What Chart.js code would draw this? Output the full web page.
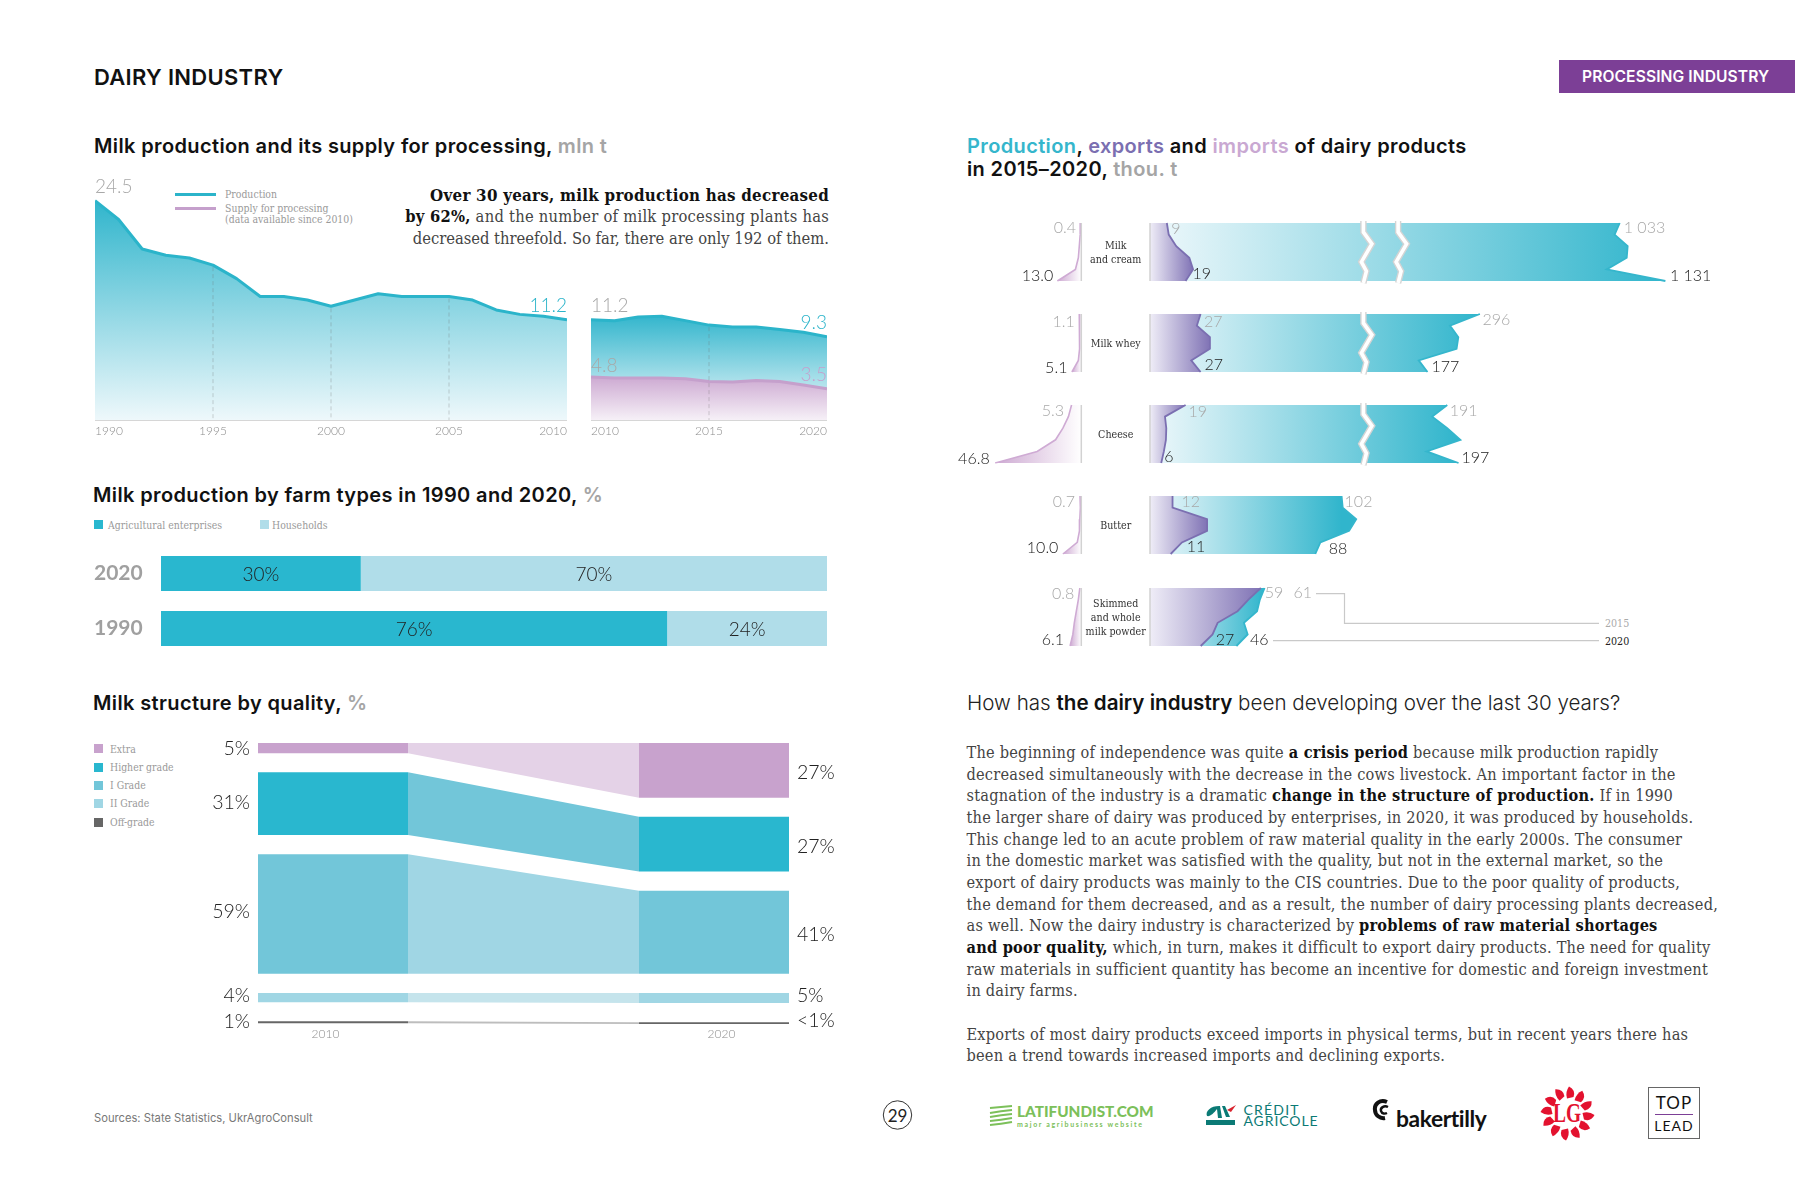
<!DOCTYPE html>
<html>
<head>
<meta charset="utf-8">
<title>Dairy industry</title>
<script src="https://cdn.jsdelivr.net/npm/chart.js@4/dist/chart.umd.js"></script>
<style>
  html, body { margin: 0; padding: 0; background: #fff; }
  #page { position: relative; width: 1795px; height: 1180px; overflow: hidden; font-family: Lato, sans-serif; color: #111; }
  #page canvas { position: absolute; }
  .t { position: absolute; white-space: nowrap; line-height: 1; transform: translateY(-50%); }
  .h { font-family: Inter, sans-serif; font-weight: 600; font-size: 20px; letter-spacing: .37px; color: #111; }
  .grey { color: #a5a5a5; }
  .lg { font-family: "DejaVu Serif Condensed", serif; font-size: 10.4px; color: #9a9a9a; }
  .sw { position: absolute; width: 9px; height: 9px; }
  .slab { font-family: "DejaVu Serif Condensed", serif; }
  #body { position: absolute; left: 966.5px; top: 742px; font-family: "DejaVu Serif Condensed", serif; font-size: 16.2px; letter-spacing: .22px; line-height: 21.66px; color: #444; white-space: nowrap; }
  #body b { color: #111; }
</style>
</head>
<body>
<div id="page">
  <!-- header -->
  <div class="t" style="left:94px;top:77px;font-family:Inter,sans-serif;font-size:22px;letter-spacing:.3px;font-weight:600">DAIRY INDUSTRY</div>
  <div style="position:absolute;left:1559px;top:59.5px;width:236px;height:33px;background:#7c3f96"></div>
  <div class="t" style="left:1582px;top:76.5px;font-family:Inter,sans-serif;font-size:15.6px;letter-spacing:.1px;font-weight:600;color:#fff">PROCESSING INDUSTRY</div>

  <!-- left column headings -->
  <div class="t h" style="left:94px;top:146px">Milk production and its supply for processing, <span class="grey">mln t</span></div>
  <div class="t h" style="left:93px;top:494.5px">Milk production by farm types in 1990 and 2020, <span class="grey">%</span></div>
  <div class="t h" style="left:93px;top:702.5px">Milk structure by quality, <span class="grey">%</span></div>

  <!-- production legend -->
  <div style="position:absolute;left:175px;top:193px;width:41px;height:3px;background:#2bb4ca"></div>
  <div style="position:absolute;left:175px;top:207px;width:41px;height:3px;background:#c5a0cc"></div>
  <div class="t lg" style="left:225px;top:194px">Production</div>
  <div class="t lg" style="left:225px;top:208px">Supply for processing</div>
  <div class="t lg" style="left:225px;top:219px">(data available since 2010)</div>

  <!-- callout -->
  <div class="t slab" style="right:966px;top:195px;font-size:16.8px;letter-spacing:.26px;font-weight:700;color:#111">Over 30 years, milk production has decreased</div>
  <div class="t slab" style="right:966px;top:217.3px;font-size:16.4px;letter-spacing:.25px;color:#444"><b style="color:#111">by 62%,</b> and the number of milk processing plants has</div>
  <div class="t slab" style="right:966px;top:239.3px;font-size:16.4px;color:#444">decreased threefold. So far, there are only 192 of them.</div>

  <!-- milk can -->
  <svg style="position:absolute;left:136px;top:317px" width="36" height="73" viewBox="0 0 36 73" fill="none" stroke="#2bb4ca" stroke-width="2.6" stroke-linejoin="round">
    <path d="M2 30V11Q2 8 7 7V4Q7 2 10 2H26Q29 2 29 4V7Q34 8 34 11V30"/>
    <ellipse cx="18" cy="20" rx="12" ry="3.4"/>
    <path d="M6 20V29L2.5 34V67Q2.5 71 7 71H29Q33.5 71 33.5 67V34L30 29V20"/>
  </svg>

  <!-- farm legend -->
  <div class="sw" style="left:94px;top:520px;background:#29b7cf"></div>
  <div class="t lg" style="left:108px;top:525px">Agricultural enterprises</div>
  <div class="sw" style="left:260px;top:520px;background:#b0dde9"></div>
  <div class="t lg" style="left:272px;top:525px">Households</div>

  <!-- quality legend -->
  <div class="sw" style="left:94px;top:744px;background:#c8a2cd"></div>
  <div class="t lg" style="left:110px;top:748.5px">Extra</div>
  <div class="sw" style="left:94px;top:762.5px;background:#29b7cf"></div>
  <div class="t lg" style="left:110px;top:767px">Higher grade</div>
  <div class="sw" style="left:94px;top:780.5px;background:#72c6d9"></div>
  <div class="t lg" style="left:110px;top:785px">I Grade</div>
  <div class="sw" style="left:94px;top:799px;background:#a0d6e4"></div>
  <div class="t lg" style="left:110px;top:803.3px">II Grade</div>
  <div class="sw" style="left:94px;top:817.5px;background:#666"></div>
  <div class="t lg" style="left:110px;top:822.2px">Off-grade</div>

  <div class="t" style="left:94px;top:1118.5px;font-family:Inter,sans-serif;font-size:11.2px;color:#777">Sources: State Statistics, UkrAgroConsult</div>

  <!-- right column heading -->
  <div class="t h" style="left:967px;top:146px"><span style="color:#35b6cc">Production</span>, <span style="color:#7b6fb1">exports</span> and <span style="color:#c9a8d2">imports</span> of dairy products</div>
  <div class="t h" style="left:967px;top:169.3px">in 2015–2020, <span class="grey">thou. t</span></div>

  <!-- year leader lines -->
  <svg style="position:absolute;left:0;top:0" width="1795" height="1180" fill="none" stroke="#c9c9c9" stroke-width="1.2">
    <path d="M1316 593.7H1344.5V623.3H1599"/>
    <path d="M1273 640.7H1599"/>
    <circle cx="897.5" cy="1115" r="14.2" stroke="#333" stroke-width="1"/>
  </svg>
  <div class="t lg" style="left:1605px;top:623.3px;font-size:10.6px;color:#aaa">2015</div>
  <div class="t lg" style="left:1605px;top:640.7px;font-size:10.6px;color:#222">2020</div>

  <!-- article -->
  <div class="t" style="left:967px;top:703px;font-family:Inter,sans-serif;font-size:20.6px;font-weight:300;color:#222">How has <b style="font-weight:600;color:#111">the dairy industry</b> been developing over the last 30 years?</div>
  <div id="body">
The beginning of independence was quite <b>a crisis period</b> because milk production rapidly<br>
decreased simultaneously with the decrease in the cows livestock. An important factor in the<br>
stagnation of the industry is a dramatic <b>change in the structure of production.</b> If in 1990<br>
the larger share of dairy was produced by enterprises, in 2020, it was produced by households.<br>
This change led to an acute problem of raw material quality in the early 2000s. The consumer<br>
in the domestic market was satisfied with the quality, but not in the external market, so the<br>
export of dairy products was mainly to the CIS countries. Due to the poor quality of products,<br>
the demand for them decreased, and as a result, the number of dairy processing plants decreased,<br>
as well. Now the dairy industry is characterized by <b>problems of raw material shortages</b><br>
<b>and poor quality,</b> which, in turn, makes it difficult to export dairy products. The need for quality<br>
raw materials in sufficient quantity has become an incentive for domestic and foreign investment<br>
in dairy farms.<br>
<br>
Exports of most dairy products exceed imports in physical terms, but in recent years there has<br>
been a trend towards increased imports and declining exports.
  </div>

  <!-- footer -->
  <div class="t" style="left:897.5px;top:1115px;transform:translate(-50%,-50%);font-size:17px;color:#222">29</div>

  <svg style="position:absolute;left:989px;top:1105px" width="25" height="21" fill="none" stroke="#7cc05a" stroke-width="2">
    <path d="M1 3L23 1M1 8Q12 6 23 5M1 12Q12 10 23 9M1 16Q12 15 23 13M1 20Q12 19 23 17"/>
  </svg>
  <div class="t" style="left:1017px;top:1111.5px;font-size:15.3px;font-weight:900;color:#7cc05a">LATIFUNDIST.COM</div>
  <div class="t" style="left:1017px;top:1123.5px;font-size:7px;letter-spacing:1.65px;font-weight:700;color:#7cc05a">major agribusiness website</div>

  <svg style="position:absolute;left:1205px;top:1104px" width="32" height="22">
    <path d="M14 2C6 2 0 7 2 12C5 13 9 9 12 5L13 14H17L15 2ZM17 2H20L25 13H21Z" fill="#0b7a75"/>
    <path d="M22 6L31 1L26 8Z" fill="#d9232e"/>
    <rect x="1" y="16" width="29" height="5" fill="#0b7a75"/>
  </svg>
  <div class="t" style="left:1243.5px;top:1110px;font-size:14px;letter-spacing:1.2px;color:#0b7a75">CRÉDIT</div>
  <div class="t" style="left:1243.5px;top:1121px;font-size:14px;letter-spacing:.9px;color:#0b7a75">AGRICOLE</div>

  <svg style="position:absolute;left:1372px;top:1099px" width="22" height="22" fill="none" stroke="#111">
    <path d="M15 3C8 0 2 5 3 11C3 16 8 20 13 19" stroke-width="4"/>
    <path d="M16 8C12 6 8 9 9 12C10 15 13 15 15 14" stroke-width="2.4"/>
  </svg>
  <div class="t" style="left:1396px;top:1118px;font-size:22.8px;font-weight:700;color:#111;letter-spacing:-.4px">bakertilly</div>

  <svg style="position:absolute;left:1540px;top:1086px" width="55" height="55">
    <g id="lg-spokes" fill="#e3122f"></g>
  </svg>
  <div class="t" style="left:1567.4px;top:1113px;transform:translate(-50%,-50%) scaleX(.72);font-size:27px;font-weight:700;color:#e3122f;font-family:'Liberation Serif',serif">LG</div>

  <div style="position:absolute;left:1648px;top:1087px;width:52px;height:52px;border:1.5px solid #666;box-sizing:border-box"></div>
  <div class="t" style="left:1674px;top:1102px;transform:translate(-50%,-50%);font-size:17px;letter-spacing:1px;color:#111">TOP</div>
  <div style="position:absolute;left:1655px;top:1114px;width:38px;height:1px;background:#7c3f96"></div>
  <div class="t" style="left:1674px;top:1126px;transform:translate(-50%,-50%);font-size:14px;letter-spacing:1px;color:#111">LEAD</div>
</div>

<script>
// --- data ---------------------------------------------------------------
const productionYears = ['1990','1991','1992','1993','1994','1995','1996','1997','1998','1999','2000','2001','2002','2003','2004','2005','2006','2007','2008','2009','2010'];
const productionValues = [24.5,22.4,19.1,18.4,18.1,17.3,15.8,13.8,13.8,13.4,12.7,13.4,14.1,13.8,13.8,13.8,13.4,12.3,11.8,11.6,11.2];
const recentYears = ['2010','2011','2012','2013','2014','2015','2016','2017','2018','2019','2020'];
const recentProduction = [11.2,11.1,11.5,11.6,11.1,10.6,10.4,10.4,10.1,9.8,9.3];
const recentSupply = [4.8,4.7,4.7,4.7,4.6,4.3,4.25,4.4,4.3,3.9,3.5];

const farmYears = ['2020','1990'];
const farmEnterprises = [30,76];
const farmHouseholds = [70,24];

const qualityGrades = ['Extra','Higher grade','I Grade','II Grade','Off-grade'];
const quality2010 = [5,31,59,4.6,1];
const quality2020 = [27,27,41,5,0.9];
const quality2010Labels = ['5%','31%','59%','4%','1%'];
const quality2020Labels = ['27%','27%','41%','5%','<1%'];

const tradeYears = ['2015','2016','2017','2018','2019','2020'];
const milkImports = [0.4,0.6,1.1,1.6,3.2,13.0];
const milkExports = [9,10,14,21,23,19];
const milkProduction = [1033,1022,1050,1048,1005,1131];
const wheyImports = [1.1,0.9,0.8,1.1,1.6,5.1];
const wheyExports = [27,25,32,32,22,27];
const wheyProduction = [296,228,247,243,157,177];
const cheeseImports = [5.3,7,10,14,24,46.8];
const cheeseExports = [19,8,8.7,8.5,7.4,6];
const cheeseProduction = [191,183,191,198,180,197];
const butterImports = [0.7,0.5,0.8,1.0,2.2,10.0];
const butterExports = [12,12,30.4,30.4,17,11];
const butterProduction = [102,102.6,109.8,106,90.7,88];
const powderImports = [0.8,1.6,2.7,3.8,4.6,6.1];
const powderExports = [59,52.4,46.6,36,33.3,27];
const powderProduction = [61,58.5,57,50,52,46];

// --- helpers ------------------------------------------------------------
const TEAL = '#2bb4ca', LILAC = '#c5a0cc', GREY = '#a8a8a8', DARK = '#222';
const numFont = '300 16px Lato';

Chart.defaults.font.family = 'Lato';
Chart.defaults.animation = false;
Chart.defaults.events = [];
Chart.defaults.responsive = false;
Chart.defaults.plugins.legend.display = false;
Chart.defaults.plugins.tooltip.enabled = false;

function makeChart(left, top, width, height, cfg) {
    const canvas = document.createElement('canvas');
    canvas.width = width;
    canvas.height = height;
    canvas.style.left = left + 'px';
    canvas.style.top = top + 'px';
    document.getElementById('page').appendChild(canvas);
    return new Chart(canvas, cfg);
}

// text tied to a chart element, or to a pair of scale values through `at`
function labelPlugin(items) {
    return {
        id: 'labels',
        afterDatasetsDraw(chart) {
            const ctx = chart.ctx;
            items.forEach(it => {
                let x, y;
                if (it.at) {
                    x = chart.scales.x.getPixelForValue(it.at[0]);
                    y = chart.scales.y.getPixelForValue(it.at[1]);
                } else {
                    const p = chart.getDatasetMeta(it.ds).data[it.i].getCenterPoint();
                    x = p.x; y = p.y;
                }
                ctx.save();
                ctx.font = it.font || numFont;
                ctx.fillStyle = it.color || DARK;
                ctx.textAlign = it.align || 'left';
                ctx.textBaseline = 'middle';
                ctx.fillText(it.text, x + (it.dx || 0), y + (it.dy || 0));
                ctx.restore();
            });
        }
    };
}

// dashed drop from the line to the axis at some categories
function dropPlugin(dsIndex, years) {
    return {
        id: 'drops',
        afterDatasetsDraw(chart) {
            const ctx = chart.ctx, bottom = chart.chartArea.bottom;
            const labels = chart.data.labels;
            ctx.save();
            ctx.strokeStyle = 'rgba(110,110,110,.3)';
            ctx.setLineDash([4, 3]);
            years.forEach(yr => {
                const p = chart.getDatasetMeta(dsIndex).data[labels.indexOf(yr)];
                ctx.beginPath();
                ctx.moveTo(p.x, p.y + 2);
                ctx.lineTo(p.x, bottom);
                ctx.stroke();
            });
            ctx.restore();
        }
    };
}

// gradient between two heights given in value units of the y axis
function vGrad(chart, v0, v1, c0, c1) {
    const area = chart.chartArea;
    if (!area) return c0;
    const y = chart.scales.y;
    const g = chart.ctx.createLinearGradient(0, y.getPixelForValue(v0), 0, y.getPixelForValue(v1));
    g.addColorStop(0, c0);
    g.addColorStop(1, c1);
    return g;
}

function areaChart(left, width, labels, datasets, ticks, plugins) {
    return makeChart(left, 170, width, 275, {
        type: 'line',
        data: { labels, datasets },
        options: {
            layout: { padding: { top: 30.7 } },
            elements: { point: { radius: 0 }, line: { tension: 0, borderWidth: 3, borderJoinStyle: 'round' } },
            scales: {
                y: { display: false, min: 0, max: 24.5 },
                x: {
                    offset: false,
                    afterFit: s => { s.height = 25; s.paddingLeft = 0; s.paddingRight = 0; },
                    grid: { display: false, drawTicks: false },
                    border: { color: '#d6d6d6', width: 2 },
                    ticks: {
                        autoSkip: false, maxRotation: 0, align: 'inner', padding: 4,
                        color: '#8e8e8e', font: { size: 12, weight: 300 },
                        callback(v, i) { return ticks.includes(labels[i]) ? labels[i] : ''; }
                    }
                }
            }
        },
        plugins
    });
}

// --- milk production, two panels ---------------------------------------
areaChart(94.7, 472.3, productionYears, [{
    data: productionValues,
    borderColor: TEAL,
    fill: 'origin',
    clip: false,
    backgroundColor: c => vGrad(c.chart, 24.5, 0, '#30b5cc', '#eef8fb')
}], ['1990','1995','2000','2005','2010'], [
    dropPlugin(0, ['1995','2000','2005']),
    labelPlugin([
        { ds: 0, i: 0, text: '24.5', dy: -14, color: GREY, font: '300 19px Lato' },
        { ds: 0, i: 20, text: '11.2', dy: -13.6, align: 'right', color: TEAL, font: '300 19px Lato' }
    ])
]);

areaChart(590.6, 236.2, recentYears, [{
    data: recentSupply,
    borderColor: LILAC,
    fill: 'origin',
    clip: false,
    backgroundColor: c => vGrad(c.chart, 4.8, 0, '#cdaad2', '#f6f0f7')
}, {
    data: recentProduction,
    borderColor: TEAL,
    fill: 'origin',
    clip: false,
    backgroundColor: c => vGrad(c.chart, 11.6, 0, '#34b6cd', '#f3fafc')
}], ['2010','2015','2020'], [
    dropPlugin(1, ['2015']),
    labelPlugin([
        { ds: 1, i: 0, text: '11.2', dy: -13.6, color: GREY, font: '300 19px Lato' },
        { ds: 1, i: 10, text: '9.3', dy: -14, align: 'right', color: TEAL, font: '300 19px Lato' },
        { ds: 0, i: 0, text: '4.8', dy: -11, color: GREY, font: '300 19px Lato' },
        { ds: 0, i: 10, text: '3.5', dy: -13.3, align: 'right', color: LILAC, font: '300 19px Lato' }
    ])
]);

// --- farm types ---------------------------------------------------------
makeChart(94, 546, 733, 110, {
    type: 'bar',
    data: {
        labels: farmYears,
        datasets: [
            { data: farmEnterprises, backgroundColor: '#29b7cf', categoryPercentage: 1, barPercentage: 35 / 55 },
            { data: farmHouseholds, backgroundColor: '#b0dde9', categoryPercentage: 1, barPercentage: 35 / 55 }
        ]
    },
    options: {
        indexAxis: 'y',
        scales: {
            x: { display: false, stacked: true, min: 0, max: 100 },
            y: {
                stacked: true,
                afterFit: s => { s.width = 67; s.paddingTop = 0; s.paddingBottom = 0; },
                grid: { display: false, drawTicks: false },
                border: { display: false },
                ticks: { crossAlign: 'far', padding: 0, color: '#a0a0a0', font: { size: 21, weight: 700 } }
            }
        }
    },
    plugins: [labelPlugin(farmYears.flatMap((yr, i) => [
        { ds: 0, i, text: farmEnterprises[i] + '%', align: 'center', dy: 1, font: '300 19px Lato' },
        { ds: 1, i, text: farmHouseholds[i] + '%', align: 'center', dy: 1, font: '300 19px Lato' }
    ]))]
});

// --- quality bands ------------------------------------------------------
const bandGap = 9.4;                         // empty stretch between grades, in % units
const bandX = [0, 1, 2.54, 3.54];            // left bar, link, right bar
const bandColors = ['#c8a2cd', '#29b7cf', '#72c6d9', '#a0d6e4', '#666666'];
const linkColors = ['#e4d2e7', '#72c6d9', '#a0d6e4', '#c5e4ec', '#bdbdbd'];
const leftLabelShift = [1, -.5, -2, -1.5, -.5];
const rightLabelShift = [2.5, 2.5, 2.5, -2.5, -2];

function bandEdges(values) {
    let pos = 0;
    return values.map(v => {
        const edge = { top: pos, bottom: pos + v };
        pos += v + bandGap;
        return edge;
    });
}
const edges2010 = bandEdges(quality2010);
const edges2020 = bandEdges(quality2020);

const qualityDatasets = [];
const qualityLabels = [];
qualityGrades.forEach((grade, i) => {
    const a = edges2010[i], b = edges2020[i];
    qualityDatasets.push({
        label: grade,
        data: bandX.map((x, k) => ({ x, y: k < 2 ? a.top : b.top })),
        fill: '+1',
        borderWidth: 0,
        pointRadius: 0,
        segment: { backgroundColor: s => s.p0DataIndex === 1 ? linkColors[i] : bandColors[i] }
    }, {
        data: bandX.map((x, k) => ({ x, y: k < 2 ? a.bottom : b.bottom })),
        fill: false,
        borderWidth: 0,
        pointRadius: 0
    });
    qualityLabels.push(
        { at: [0, (a.top + a.bottom) / 2], text: quality2010Labels[i], align: 'right', dx: -8, dy: leftLabelShift[i], font: '300 19.5px Lato' },
        { at: [bandX[3], (b.top + b.bottom) / 2], text: quality2020Labels[i], dx: 8, dy: rightLabelShift[i], font: '300 19.5px Lato' }
    );
});

makeChart(190, 733, 670, 315, {
    type: 'line',
    data: { datasets: qualityDatasets },
    options: {
        layout: { padding: { left: 68, right: 71, top: 10 } },
        scales: {
            y: { display: false, reverse: true, min: 0, max: 140 },
            x: {
                type: 'linear',
                min: 0,
                max: bandX[3],
                afterFit: s => { s.height = 21; s.paddingLeft = 0; s.paddingRight = 0; },
                afterBuildTicks: s => { s.ticks = [{ value: 0.45 }, { value: 3.09 }]; },
                afterTickToLabelConversion: s => { s.ticks[0].label = '2010'; s.ticks[1].label = '2020'; },
                grid: { display: false, drawTicks: false },
                border: { display: false },
                ticks: { padding: 0, color: '#8e8e8e', font: { size: 12, weight: 300 } }
            }
        }
    },
    plugins: [labelPlugin(qualityLabels)]
});

// --- trade rows ---------------------------------------------------------
// linear scale with cut-outs: values run through knots instead of a straight line
class BrokenScale extends Chart.LinearScale {
    getPixelForValue(v) {
        return this.left + knotOffset(this.options.knotValues, this.options.knotPixels, v);
    }
}
BrokenScale.id = 'broken';
BrokenScale.defaults = Chart.LinearScale.defaults;
Chart.register(BrokenScale);

function knotOffset(values, pixels, v) {
    let k = 0;
    while (k < values.length - 2 && v > values[k + 1]) k++;
    return pixels[k] + (v - values[k]) * (pixels[k + 1] - pixels[k]) / (values[k + 1] - values[k]);
}

const rowH = 58.3, rowPad = 14, rowLeft = 940;
const exportOrigin = 210, importOrigin = 141.3;
const zig = [[-2, 0], [-2, .18], [6.5, .37], [-4, .66], [1, .81], [-2, 1]];

function hGrad(ctx, x0, x1, c0, c1) {
    const g = ctx.createLinearGradient(x0, 0, x1, 0);
    g.addColorStop(0, c0);
    g.addColorStop(1, c1);
    return g;
}

function axisPlugin(breaks) {
    return {
        id: 'rowAxis',
        afterDatasetsDraw(chart) {
            const ctx = chart.ctx, area = chart.chartArea;
            ctx.save();
            ctx.strokeStyle = '#d2d2d2';
            ctx.lineWidth = 1.5;
            [chart.scales.x, chart.scales.xi].forEach(s => {
                const px = s.getPixelForValue(0);
                ctx.beginPath();
                ctx.moveTo(px, area.top);
                ctx.lineTo(px, area.bottom);
                ctx.stroke();
            });
            breaks.forEach(value => {
                const px = chart.scales.x.getPixelForValue(value);
                [['#d4d4d4', 6.4], ['#fff', 3.6]].forEach(([color, w]) => {
                    ctx.strokeStyle = color;
                    ctx.lineWidth = w;
                    ctx.beginPath();
                    zig.forEach(([dx, f], i) => {
                        const y = area.top - 2 + f * (area.height + 4);
                        i ? ctx.lineTo(px + dx, y) : ctx.moveTo(px + dx, y);
                    });
                    ctx.stroke();
                });
            });
            ctx.restore();
        }
    };
}

function namePlugin(name) {
    return {
        id: 'rowName',
        afterDatasetsDraw(chart) {
            const ctx = chart.ctx, area = chart.chartArea;
            ctx.save();
            ctx.font = '10.6px "DejaVu Serif Condensed"';
            ctx.fillStyle = '#333';
            ctx.textAlign = 'center';
            ctx.textBaseline = 'middle';
            const mid = (area.top + area.bottom) / 2 + 1;
            name.forEach((line, i) => ctx.fillText(line, 1115.7 - rowLeft, mid + (i - (name.length - 1) / 2) * 14));
            ctx.restore();
        }
    };
}

function tradeRow(top, name, imports, exportsV, production, knotValues, knotPixels, breaks, text) {
    const pixels = knotPixels.map(p => p + exportOrigin);
    const prodEnd = knotOffset(knotValues, pixels, Math.max(production[0], production[5]));
    const expEnd = knotOffset(knotValues, pixels, Math.max(...exportsV));
    const impEnd = importOrigin - Math.max(...imports) * 1.84;
    const labels = [
        { ds: 0, i: 0, text: text.imp[0], align: 'right', dx: text.impOff[0][0], dy: text.impOff[0][1], color: GREY },
        { ds: 0, i: 5, text: text.imp[1], align: 'right', dx: text.impOff[1][0], dy: text.impOff[1][1] },
        { ds: 1, i: 0, text: text.exp[0], dx: text.expOff[0][0], dy: text.expOff[0][1], color: GREY },
        { ds: 1, i: 5, text: text.exp[1], dx: text.expOff[1][0], dy: text.expOff[1][1] },
        { ds: 2, i: 0, text: text.prod[0], dx: text.prodOff[0][0], dy: text.prodOff[0][1], color: GREY },
        { ds: 2, i: 5, text: text.prod[1], dx: text.prodOff[1][0], dy: text.prodOff[1][1] }
    ];
    makeChart(rowLeft, top - rowPad, 800, rowH + rowPad * 2, {
        type: 'line',
        data: {
            labels: tradeYears,
            datasets: [{
                data: imports,
                xAxisID: 'xi',
                borderColor: '#cfabd4',
                borderWidth: 1.6,
                fill: 'origin',
                backgroundColor: c => hGrad(c.chart.ctx, importOrigin, impEnd, '#ffffff', '#cda9d2')
            }, {
                data: exportsV,
                borderColor: '#7b6fb1',
                borderWidth: 1.8,
                fill: 'origin',
                backgroundColor: c => hGrad(c.chart.ctx, exportOrigin, expEnd, '#efedf7', '#8073b5')
            }, {
                data: production,
                borderColor: '#35b6cc',
                borderWidth: 1.8,
                fill: 'origin',
                backgroundColor: c => hGrad(c.chart.ctx, exportOrigin, prodEnd, '#eef8fb', '#30b5cc')
            }]
        },
        options: {
            indexAxis: 'y',
            layout: { padding: { top: rowPad, bottom: rowPad } },
            elements: { point: { radius: 0 }, line: { tension: 0 } },
            scales: {
                y: { display: false, type: 'category', offset: false },
                x: { type: 'broken', axis: 'x', display: false, min: 0, max: 2000, knotValues, knotPixels: pixels },
                xi: {
                    type: 'broken', axis: 'x', display: false, min: 0, max: 100,
                    knotValues: [0, 100], knotPixels: [importOrigin, importOrigin - 184]
                }
            }
        },
        plugins: [axisPlugin(breaks), namePlugin(name), labelPlugin(labels)]
    });
}

tradeRow(222.7, ['Milk', 'and cream'], milkImports, milkExports, milkProduction,
    [0, 115, 1005, 1131], [0, 215.4, 456.7, 515.4], [115, 243], {
        imp: ['0.4', '13.0'], impOff: [[-4.5, 5], [-4, -5.6]],
        exp: ['9', '19'], expOff: [[4.5, 6], [7, -7.6]],
        prod: ['1 033', '1 131'], prodOff: [[4, 5], [4.5, -5.3]]
    });
tradeRow(314, ['Milk whey'], wheyImports, wheyExports, wheyProduction,
    [0, 115, 157, 296], [0, 215.4, 268.7, 329.9], [115], {
        imp: ['1.1', '5.1'], impOff: [[-4.5, 7.6], [-4.5, -4.6]],
        exp: ['27', '27'], expOff: [[3.5, 8], [4, -6.7]],
        prod: ['296', '177'], prodOff: [[2.5, 6], [4, -5]]
    });
tradeRow(405, ['Cheese'], cheeseImports, cheeseExports, cheeseProduction,
    [0, 115, 180, 198], [0, 215.4, 276.6, 310.4], [115], {
        imp: ['5.3', '46.8'], impOff: [[-7.5, 5.7], [-5.5, -4.3]],
        exp: ['19', '6'], expOff: [[3, 6.7], [3, -6.3]],
        prod: ['191', '197'], prodOff: [[2.5, 5.7], [3, -4.7]]
    });
tradeRow(496, ['Butter'], butterImports, butterExports, butterProduction,
    [0, 115], [0, 216], [], {
        imp: ['0.7', '10.0'], impOff: [[-5, 6.3], [-4.5, -5.7]],
        exp: ['12', '11'], expOff: [[9, 6.3], [16, -7.3]],
        prod: ['102', '88'], prodOff: [[3, 5.7], [13.5, -5]]
    });
tradeRow(587.7, ['Skimmed', 'and whole', 'milk powder'], powderImports, powderExports, powderProduction,
    [0, 115], [0, 216], [], {
        imp: ['0.8', '6.1'], impOff: [[-5.5, 6.3], [-6, -5.7]],
        exp: ['59', '27'], expOff: [[4, 5], [15, -6]],
        prod: ['61', '46'], prodOff: [[29, 5], [13.5, -6]]
    });

// LG emblem petals
const spokes = document.getElementById('lg-spokes');
for (let a = 0; a < 360; a += 30) {
    const p = document.createElementNS('http://www.w3.org/2000/svg', 'path');
    p.setAttribute('d', 'M29 .5Q36 4 33.5 11L27 12.5Q25 6 29 .5Z');
    p.setAttribute('transform', `rotate(${a} 27.5 27.5)`);
    spokes.appendChild(p);
}
</script>
</body>
</html>
